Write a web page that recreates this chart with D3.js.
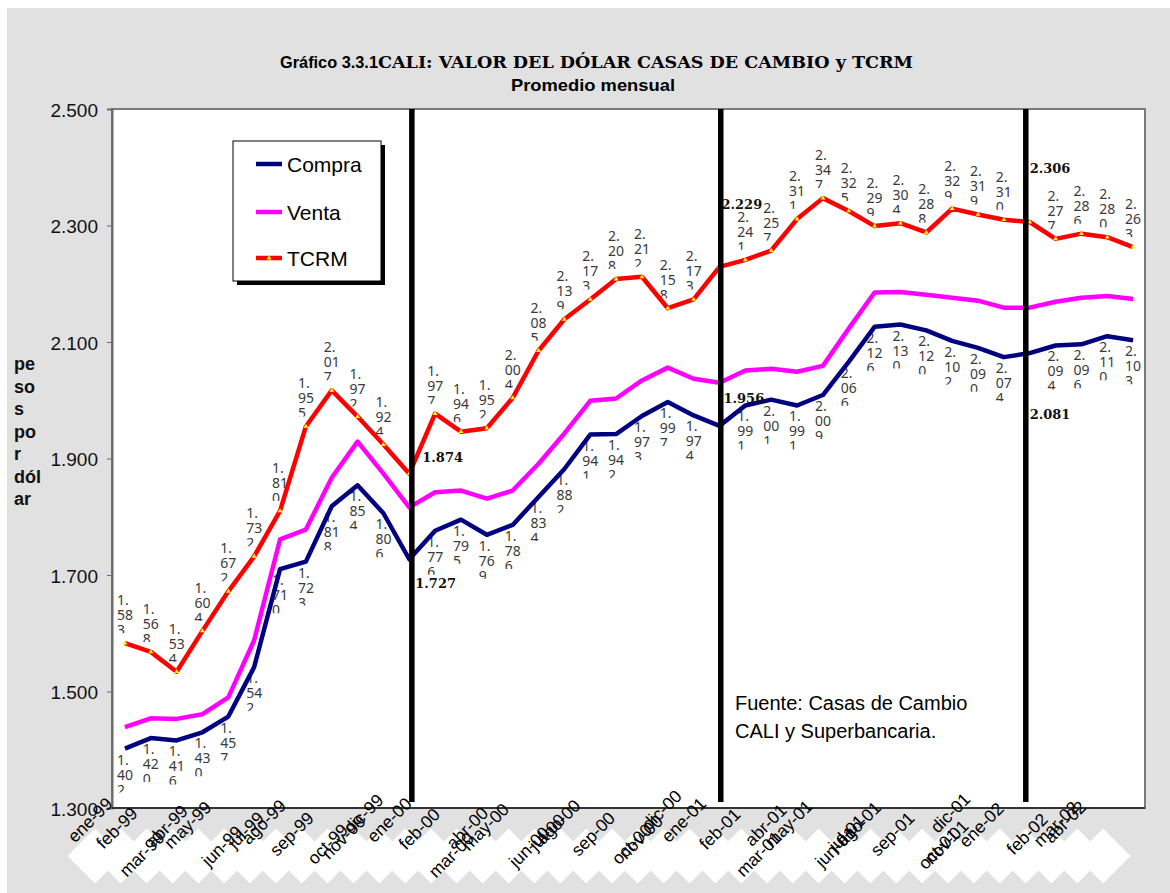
<!DOCTYPE html>
<html><head><meta charset="utf-8">
<script src="https://cdn.jsdelivr.net/npm/d3@7"></script>
<style>body{margin:0;background:#fff} svg{display:block}</style>
</head><body>
<svg id="chart" width="1170" height="893"></svg>
<script>
// ---------- DATA ----------
const months = ["ene-99","feb-99","mar-99","abr-99","may-99","jun-99","jul-99","ago-99","sep-99","oct-99","nov-99","dic-99",
  "ene-00","feb-00","mar-00","abr-00","may-00","jun-00","jul-00","ago-00","sep-00","oct-00","nov-00","dic-00",
  "ene-01","feb-01","mar-01","abr-01","may-01","jun-01","jul-01","ago-01","sep-01","oct-01","nov-01","dic-01",
  "ene-02","feb-02","mar-02","abr-02"];
const compra = [1.402,1.420,1.416,1.430,1.457,1.542,1.710,1.723,1.818,1.854,1.806,1.727,
  1.776,1.795,1.769,1.786,1.834,1.882,1.941,1.942,1.973,1.997,1.974,1.956,
  1.991,2.001,1.991,2.009,2.066,2.126,2.130,2.120,2.102,2.090,2.074,2.081,
  2.094,2.096,2.110,2.103];
const venta = [1.439,1.454,1.453,1.461,1.490,1.588,1.761,1.778,1.867,1.929,1.874,1.816,
  1.842,1.845,1.831,1.845,1.891,1.943,1.999,2.003,2.034,2.056,2.037,2.030,
  2.051,2.054,2.049,2.059,2.123,2.185,2.186,2.181,2.176,2.171,2.159,2.159,
  2.169,2.176,2.179,2.174];
const tcrm = [1.583,1.568,1.534,1.604,1.672,1.732,1.810,1.955,2.017,1.972,1.924,1.874,
  1.977,1.946,1.952,2.004,2.085,2.139,2.173,2.208,2.212,2.158,2.173,2.229,
  2.241,2.257,2.311,2.347,2.325,2.299,2.304,2.288,2.329,2.319,2.310,2.306,
  2.277,2.286,2.280,2.263];
const yTicks = [1.3,1.5,1.7,1.9,2.1,2.3,2.5];
const seriesNames = ["Compra","Venta","TCRM"];
// December marks (year separators), in month-index units
const yearMarks = [11.1, 23.05, 34.85];
const highlightIdx = [11, 23, 35];
// irregular category label placement of the original (month-index units, px below axis)
const tickPos = [-1.35,-0.31,0.66,1.62,2.43,3.75,4.67,5.37,6.45,7.84,8.46,9.23,
  10.23,11.39,12.63,13.24,13.94,15.64,16.33,16.76,18.11,19.61,19.96,20.77,
  21.62,23.01,24.52,24.79,25.68,27.49,27.92,28.38,29.69,31.47,31.78,31.93,
  33.13,34.90,36.02,36.37];
const tickDrop = [12,20,46,18,17,38,22,14,26,36,29,6,12,21,47,20,19,39,24,14,26,36,29,2,
  12,21,46,17,16,39,25,16,26,41,34,5,17,26,16,14];

// ---------- LAYOUT ----------
const svg = d3.select("#chart");
const P = {l:112, r:1145, t:109, b:808};
const colors = {Compra:"#000080", Venta:"#ff00ff", TCRM:"#ff0000"};

svg.append("rect").attr("x",7).attr("y",8).attr("width",1163).attr("height",885).attr("fill","#e1e1e1");

const xb = d3.scaleBand().domain(months).range([P.l, P.r+1]);
const xi = d3.scaleLinear().domain([0,1]).range([xb(months[0])+xb.bandwidth()/2, xb(months[1])+xb.bandwidth()/2]);
const y = d3.scaleLinear().domain([1.3,2.5]).range([P.b, P.t]);

// white zig-zag band under the category labels
const dia = svg.append("g");
months.forEach((m,i)=>{
  const cx = xi(i)-30, cy = 856, h = 27.5;
  dia.append("path").attr("d",`M${cx-h},${cy}L${cx},${cy-h}L${cx+h},${cy}L${cx},${cy+h}Z`).attr("fill","#fff");
});

// plot area
svg.append("rect").attr("x",P.l).attr("y",P.t).attr("width",P.r-P.l).attr("height",P.b-P.t)
  .attr("fill","#fff").attr("stroke","#7a7a7a").attr("stroke-width",2);

// Title
svg.append("text").attr("x",280).attr("y",68).attr("font-family","Liberation Sans, Arial").attr("font-weight","bold")
  .attr("font-size",17).attr("textLength",98).attr("lengthAdjust","spacingAndGlyphs").text("Gráfico 3.3.1");
svg.append("text").attr("x",378).attr("y",68).attr("font-family","DejaVu Serif").attr("font-weight","bold")
  .attr("font-size",16).attr("textLength",535).attr("lengthAdjust","spacingAndGlyphs").text("CALI: VALOR DEL DÓLAR CASAS DE CAMBIO y TCRM");
svg.append("text").attr("x",593).attr("y",91).attr("text-anchor","middle").attr("font-family","Liberation Sans, Arial")
  .attr("font-weight","bold").attr("font-size",17).attr("textLength",164).attr("lengthAdjust","spacingAndGlyphs").text("Promedio mensual");

// Y axis
const yAxis = d3.axisLeft(y).tickValues(yTicks).tickSize(5).tickPadding(9).tickFormat(d3.format(".3f"));
const ga = svg.append("g").attr("transform",`translate(${P.l},0)`).call(yAxis);
ga.select(".domain").attr("stroke","#6a6a6a").attr("stroke-width",2);
ga.selectAll(".tick line").attr("stroke","#6a6a6a");
ga.selectAll(".tick text").attr("font-family","Liberation Sans, Arial").attr("font-size",19).attr("fill","#111").attr("dy","0.38em");

// X axis line
svg.append("line").attr("x1",P.l).attr("x2",P.r).attr("y1",P.b).attr("y2",P.b).attr("stroke","#333").attr("stroke-width",2);

// Y axis title
const yt = ["pe","so","s","po","r","dól","ar"];
svg.append("g").selectAll("text").data(yt).join("text")
  .attr("x",14).attr("y",(d,i)=>370+i*22.5).attr("font-family","Liberation Sans, Arial").attr("font-weight","bold")
  .attr("font-size",18).attr("fill","#111").text(d=>d);

// X category labels
svg.append("g").selectAll("text").data(months).join("text")
  .attr("transform",(d,i)=>`translate(${xi(tickPos[i])},${P.b+tickDrop[i]}) rotate(-45)`)
  .attr("text-anchor","middle").attr("dominant-baseline","central")
  .attr("font-family","Liberation Sans, Arial").attr("font-size",17.5).attr("fill","#000").text(d=>d);

// data labels (3-line split, last line clipped)
const fmt = d3.format(".3f");
const defs = svg.append("defs");
const lab = svg.append("g").attr("font-family","Noto Sans, DejaVu Sans").attr("font-size",14).attr("fill","#3a3a3a");
function addLabels(arr, above, key){
  arr.forEach((v,i)=>{
    if (highlightIdx.includes(i)) return;
    const px = xi(i), py = y(v);
    const id = `c${key}${i}`;
    const cy0 = above ? py-60 : py;
    const cy1 = above ? py-10 : py+44;
    defs.append("clipPath").attr("id",id).append("rect").attr("x",px-15).attr("y",cy0).attr("width",35).attr("height",cy1-cy0);
    const s = fmt(v);
    const parts = [s.slice(0,2), s.slice(2,4), s.slice(4)];
    const base = above ? [py-38,py-23,py-8] : [py+16,py+31,py+46];
    const g = lab.append("g").attr("clip-path",`url(#${id})`);
    parts.forEach((p,k)=>g.append("text").attr("x",px-8).attr("y",base[k]).text(p));
  });
}
addLabels(tcrm, true, "t");
addLabels(compra, false, "c");

// lines
const line = d3.line().x((d,i)=>xi(i)).y(d=>y(d));
[["Venta",venta],["Compra",compra],["TCRM",tcrm]].forEach(([n,arr])=>{
  svg.append("path").datum(arr).attr("d",line).attr("fill","none").attr("stroke",colors[n])
    .attr("stroke-width",4.5).attr("stroke-linejoin","round");
});
svg.append("g").selectAll("path").data(tcrm).join("path")
  .attr("transform",(d,i)=>`translate(${xi(i)},${y(d)})`)
  .attr("d",d3.symbol(d3.symbolTriangle,10)).attr("fill","#ffff00");

// year separators
svg.append("g").selectAll("line").data(yearMarks).join("line")
  .attr("x1",d=>xi(d)).attr("x2",d=>xi(d)).attr("y1",P.t).attr("y2",P.b-6)
  .attr("stroke","#000").attr("stroke-width",5.5);

// bold highlighted values
const hl = [
  {arr:tcrm, i:11, dx:13, dy:-12}, {arr:compra, i:11, dx:6, dy:29},
  {arr:tcrm, i:23, dx:2, dy:-58}, {arr:compra, i:23, dx:4, dy:-23},
  {arr:tcrm, i:35, dx:0, dy:-49}, {arr:compra, i:35, dx:0, dy:66}];
svg.append("g").selectAll("text").data(hl).join("text")
  .attr("x",d=>xi(d.i)+d.dx).attr("y",d=>y(d.arr[d.i])+d.dy)
  .attr("font-family","DejaVu Serif").attr("font-weight","bold").attr("font-size",13).attr("fill","#111")
  .text(d=>fmt(d.arr[d.i]));

// legend
const lg = svg.append("g");
lg.append("rect").attr("x",237).attr("y",145).attr("width",148).attr("height",140).attr("fill","#000");
lg.append("rect").attr("x",233).attr("y",141).attr("width",148).attr("height",140).attr("fill","#fff").attr("stroke","#000").attr("stroke-width",1);
seriesNames.forEach((n,k)=>{
  const yy = [164,212,258][k];
  lg.append("line").attr("x1",256).attr("x2",282).attr("y1",yy).attr("y2",yy).attr("stroke",colors[n]).attr("stroke-width",4.5);
  if (n==="TCRM") lg.append("path").attr("transform",`translate(269,${yy})`).attr("d",d3.symbol(d3.symbolTriangle,10)).attr("fill","#ffff00");
  lg.append("text").attr("x",287).attr("y",yy+8).attr("font-family","Liberation Sans, Arial").attr("font-size",21).attr("fill","#000").text(n);
});

// source
const src = svg.append("g").attr("font-family","Liberation Sans, Arial").attr("font-size",20).attr("fill","#000");
src.append("text").attr("x",735).attr("y",710).text("Fuente: Casas de Cambio");
src.append("text").attr("x",735).attr("y",738).text("CALI y Superbancaria.");
</script>
</body></html>
